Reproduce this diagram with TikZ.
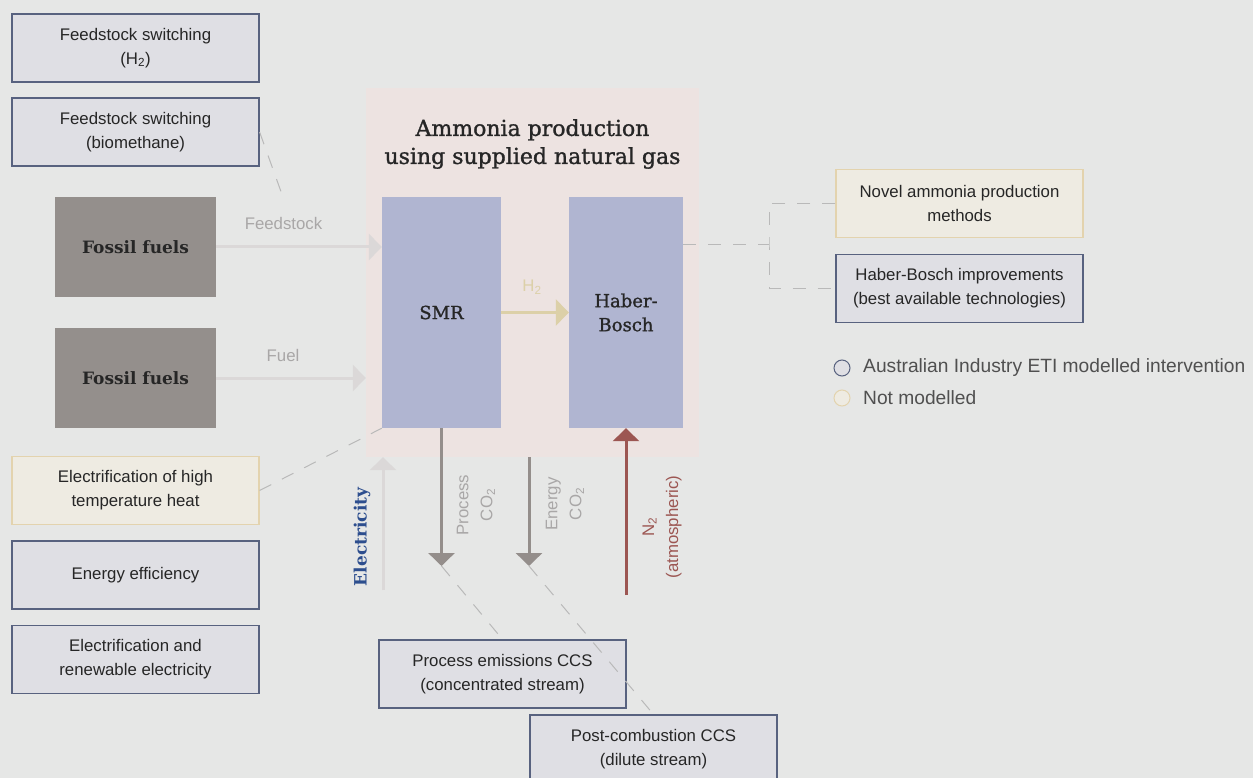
\documentclass[tikz,border=0pt]{standalone}
\usepackage{fontspec}
\setmainfont{Liberation Sans}
\newfontfamily\slabfont{DejaVu Serif}
\newfontfamily\slabmedium[FakeBold=1.2]{DejaVu Serif}
\usepackage{xcolor}
\usepackage{tikz}
\usetikzlibrary{arrows.meta,positioning}
\definecolor{bgGrey}{HTML}{E6E7E6}
\definecolor{etiFill}{HTML}{DFDFE4}
\definecolor{etiLine}{HTML}{58627F}
\definecolor{notFill}{HTML}{EEEBE2}
\definecolor{notLine}{HTML}{E3D3AE}
\definecolor{fossilFill}{HTML}{948F8C}
\definecolor{plantFill}{HTML}{EDE3E1}
\definecolor{procFill}{HTML}{B0B5D1}
\definecolor{feedGrey}{HTML}{DBD8D8}
\definecolor{h2Tan}{HTML}{DCD0A8}
\definecolor{co2Grey}{HTML}{948E8B}
\definecolor{n2Red}{HTML}{9C5652}
\definecolor{elecBlue}{HTML}{2D4E8E}
\definecolor{labelGrey}{HTML}{A9A7A7}
\definecolor{linkGrey}{HTML}{B9B9B9}
\definecolor{boxText}{HTML}{262626}
\definecolor{legText}{HTML}{505050}
\tikzset{
  etibox/.style={rectangle, draw=etiLine, fill=etiFill, line width=1.2pt, align=center, font=\fontsize{16.8}{24}\selectfont, text=boxText, minimum width=247pt, minimum height=68pt, inner sep=2pt},
  notbox/.style={etibox, draw=notLine, fill=notFill},
  fossilbox/.style={rectangle, fill=fossilFill, minimum width=161pt, minimum height=100pt, font=\slabfont\bfseries\fontsize{17}{20}\selectfont, text=boxText},
  plantbox/.style={rectangle, fill=plantFill, minimum width=333pt, minimum height=369pt},
  procbox/.style={rectangle, fill=procFill, minimum height=231pt, align=center, font=\slabmedium\fontsize{18}{24}\selectfont, text=boxText},
  titletext/.style={align=center, font=\slabmedium\fontsize{22}{28}\selectfont, text=boxText},
  flowarrow/.style={-{Triangle[length=13pt,width=26pt]}, line width=3pt, draw=#1},
  flowlabel/.style={font=\fontsize{16.8}{24}\selectfont, text=labelGrey, align=center, inner sep=0pt},
  linkline/.style={draw=linkGrey, line width=1pt, dash pattern=on 13pt off 12pt},
  legdot/.style={circle, minimum size=16pt, inner sep=0pt, outer sep=0pt, line width=1pt},
  legtext/.style={font=\fontsize{19.2}{24}\selectfont, text=legText, inner sep=0pt},
}
\begin{document}
\begin{tikzpicture}[x=1pt,y=-1pt]
  \fill[bgGrey] (0,0) rectangle (1253,778);
  \useasboundingbox (0,0) rectangle (1253,778);

  % levers on the left
  \node[etibox] (swh2) at (135.5,48) {Feedstock switching\\(H\textsubscript{2})};
  \node[etibox] (swbio) at (135.5,132) {Feedstock switching\\(biomethane)};
  \node[fossilbox] (fosfeed) at (135.5,247) {Fossil fuels};
  \node[fossilbox] (fosfuel) at (135.5,378) {Fossil fuels};
  \node[notbox] (elheat) at (135.5,490.5) {Electrification of high\\temperature heat};
  \node[etibox] (effic) at (135.5,575) {Energy efficiency};
  \node[etibox] (elren) at (135.5,659.5) {Electrification and\\renewable electricity};

  % plant
  \node[plantbox] (plant) at (532.5,272.5) {};
  \node[titletext] (title) at (532.5,144) {Ammonia production\\using supplied natural gas};
  \node[procbox, minimum width=119pt] (smr) at (441.5,312.5) {SMR};
  \node[procbox, minimum width=114pt] (hb) at (626,312.5) {Haber-\\Bosch};

  % levers on the right
  \node[notbox] (novel) at (959.5,203.5) {Novel ammonia production\\methods};
  \node[etibox] (hbimp) at (959.5,288.5) {Haber-Bosch improvements\\(best available technologies)};

  % levers below
  \node[etibox] (ccsproc) at (502.5,674) {Process emissions CCS\\(concentrated stream)};
  \node[etibox] (ccspost) at (653.5,749) {Post-combustion CCS\\(dilute stream)};

  % flows
  \draw[flowarrow=feedGrey] (fosfeed.east) -- (fosfeed.east -| smr.west);
  \node[flowlabel] (feedlbl) at (283.5,223) {Feedstock};
  \draw[flowarrow=feedGrey] (fosfuel.east) -- (fosfuel.east -| plant.west);
  \node[flowlabel] (fuellbl) at (283,355) {Fuel};
  \draw[flowarrow=h2Tan] (smr.east) -- (hb.west);
  \node[flowlabel, text=h2Tan] (h2lbl) at (532,287) {H\textsubscript{2}};

  \coordinate (pco2) at (441.5,566);
  \coordinate (eco2) at (529,566);
  \coordinate (n2src) at (626,595);
  \coordinate (elsrc) at (383,590);
  \draw[flowarrow=co2Grey] (smr.south) -- (pco2);
  \node[flowlabel, rotate=90] (pco2lbl) at (476,505) {Process\\CO\textsubscript{2}};
  \draw[flowarrow=co2Grey] (plant.south -| eco2) -- (eco2);
  \node[flowlabel, rotate=90] (eco2lbl) at (565,504) {Energy\\CO\textsubscript{2}};
  \draw[flowarrow=n2Red] (n2src) -- (hb.south);
  \node[flowlabel, rotate=90, text=n2Red] (n2lbl) at (662,527) {N\textsubscript{2}\\(atmospheric)};
  \draw[flowarrow=feedGrey] (elsrc) -- (elsrc |- plant.south);
  \node[rotate=90, font=\slabfont\bfseries\fontsize{17}{20}\selectfont, text=elecBlue, inner sep=0pt] (eleclbl) at (362,537) {Electricity};

  % dashed links
  \coordinate (feedtag) at (284,200);
  \coordinate (fork) at (769,245);
  \draw[linkline] (swbio.east) -- (feedtag);
  \draw[linkline] (elheat.east) -- (smr.south west);
  \draw[linkline] (pco2) -- (ccsproc.north);
  \draw[linkline] (eco2) -- (ccspost.north);
  \draw[linkline] (hb.east |- fork) -- (fork);
  \draw[linkline] (novel.west) -| (fork) |- (hbimp.west);

  % legend
  \node[legdot, draw=etiLine, fill=etiFill] (legeti) at (842,368) {};
  \node[legtext, right=13pt of legeti] (legetitxt) {Australian Industry ETI modelled intervention};
  \node[legdot, draw=notLine, fill=notFill] (legnot) at (842,398) {};
  \node[legtext, right=13pt of legnot] (legnottxt) {Not modelled};
\end{tikzpicture}
\end{document}
